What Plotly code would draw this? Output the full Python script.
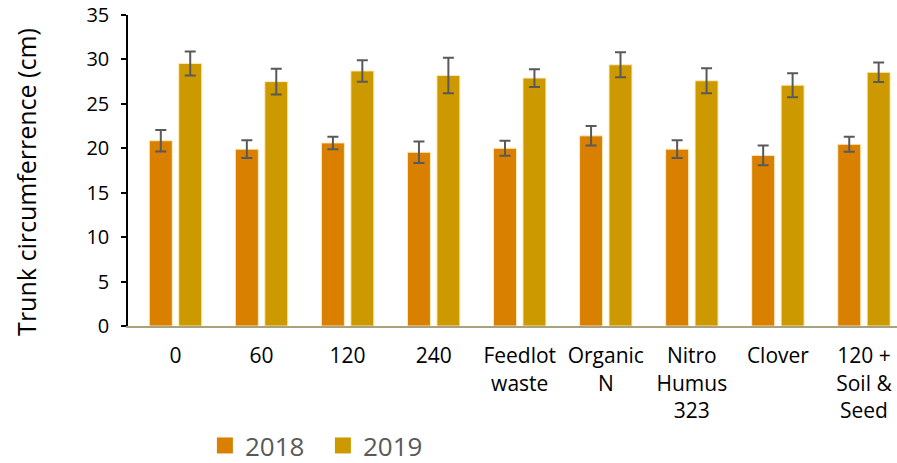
import plotly.graph_objects as go

# Treatments and mean trunk circumference (cm) with error bars
categories = ["0", "60", "120", "240", "Feedlot<br>waste", "Organic<br>N",
              "Nitro<br>Humus<br>323", "Clover", "120 +<br>Soil &<br>Seed"]
y2018 = [20.85, 19.9, 20.6, 19.55, 20.0, 21.4, 19.9, 19.2, 20.45]
err2018 = [1.2, 1.0, 0.7, 1.2, 0.85, 1.1, 1.0, 1.1, 0.85]
y2019 = [29.55, 27.5, 28.7, 28.2, 27.9, 29.4, 27.6, 27.1, 28.55]
err2019 = [1.35, 1.45, 1.2, 2.0, 1.0, 1.4, 1.4, 1.35, 1.1]
y_ticks = [0, 5, 10, 15, 20, 25, 30, 35]

c2018 = "#D98000"
c2019 = "#CC9A00"
font_family = "'Open Sans', sans-serif"
edge = dict(color="rgba(255,236,190,0.9)", width=1)
err_style = dict(type="data", visible=True, color="#595959", thickness=2, width=5.5)

fig = go.Figure()
fig.add_trace(go.Bar(x=categories, y=y2018, name="2018", marker=dict(color=c2018, line=edge),
                     error_y=dict(array=err2018, **err_style), showlegend=False))
fig.add_trace(go.Bar(x=categories, y=y2019, name="2019", marker=dict(color=c2019, line=edge),
                     error_y=dict(array=err2019, **err_style), showlegend=False))

# Legend entries drawn as larger squares
for name, col in (("2018", c2018), ("2019", c2019)):
    fig.add_trace(go.Scatter(x=[None], y=[None], mode="markers", name=name,
                             marker=dict(symbol="square", size=19, color=col)))

fig.add_annotation(text="Trunk circumferrence (cm)", textangle=-90,
                   xref="paper", yref="paper", x=-0.132, y=0.465,
                   xanchor="center", yanchor="middle", showarrow=False,
                   font=dict(family=font_family, size=25, color="#000000"))

fig.update_layout(
    width=897, height=463,
    margin=dict(l=128, r=0, t=15, b=137, autoexpand=False),
    paper_bgcolor="white", plot_bgcolor="white",
    barmode="group", bargap=0.316, bargroupgap=0.22,
    font=dict(family=font_family, color="#000000"),
    legend=dict(orientation="h", x=0.1, xanchor="left", y=-0.46, yanchor="bottom",
                entrywidth=73, font=dict(size=26, color="#595959"), itemclick=False),
    xaxis=dict(range=[-0.552, 8.384], showline=True, linecolor="#A8A37C", linewidth=2,
               ticks="", tickfont=dict(size=21, color="#000000"), showgrid=False,
               ticklabelstandoff=10),
    yaxis=dict(range=[0, 35], tickvals=y_ticks, showline=True, linecolor="#000000",
               linewidth=1.5, ticks="outside", ticklen=5, tickcolor="#000000",
               tickwidth=1.5, tickfont=dict(size=20, color="#000000"),
               showgrid=False, zeroline=False, ticklabelstandoff=8),
)

fig.write_html("out.html")
